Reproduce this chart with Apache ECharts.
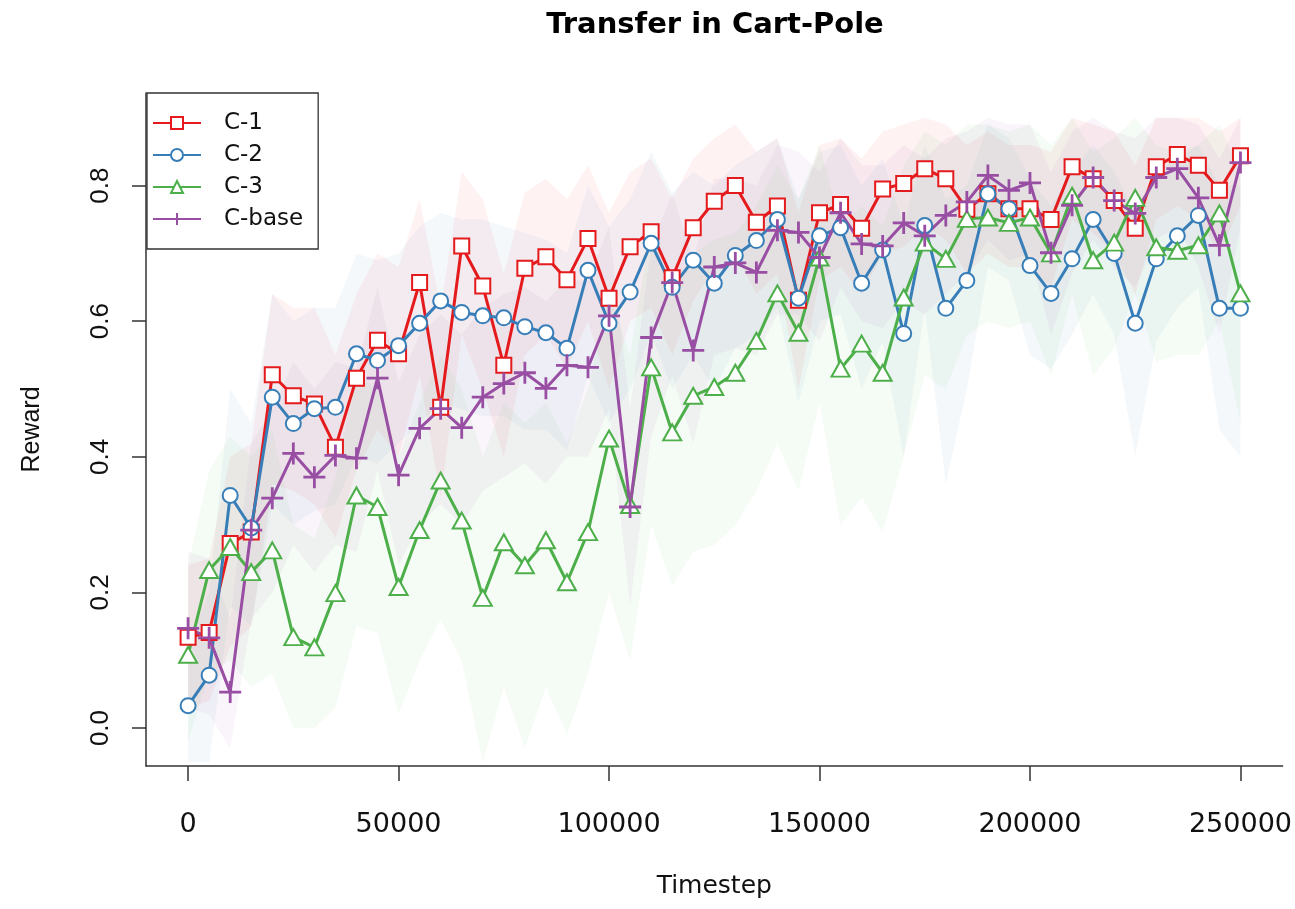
<!doctype html>
<html>
    <head>
        <meta charset="utf-8">
        <title>Transfer in Cart-Pole</title>
        <style>
            html, body { margin: 0; padding: 0; background: #fff; }
            #main { width: 1295px; height: 909px; }
        </style>
    </head>
    <body>
        <div id="main"></div>
        <script src="https://cdn.jsdelivr.net/npm/echarts@6/dist/echarts.min.js"></script>
        <script>
            // timesteps on the x axis
            var timesteps = [
                0, 5000, 10000, 15000, 20000, 25000, 30000, 35000, 40000, 45000,
                50000, 55000, 60000, 65000, 70000, 75000, 80000, 85000, 90000, 95000,
                100000, 105000, 110000, 115000, 120000, 125000, 130000, 135000, 140000, 145000,
                150000, 155000, 160000, 165000, 170000, 175000, 180000, 185000, 190000, 195000,
                200000, 205000, 210000, 215000, 220000, 225000, 230000, 235000, 240000, 245000,
                250000
            ];
            var xTicks = [0, 50000, 100000, 150000, 200000, 250000];
            var yTicks = [0, 0.2, 0.4, 0.6, 0.8];

            // mean reward per run
            var c1 = [0.134, 0.141, 0.272, 0.289, 0.521, 0.490, 0.478, 0.414, 0.516, 0.572,
                0.552, 0.657, 0.473, 0.711, 0.652, 0.535, 0.678, 0.695, 0.661, 0.722,
                0.634, 0.710, 0.732, 0.664, 0.738, 0.777, 0.800, 0.746, 0.770, 0.631,
                0.760, 0.772, 0.737, 0.795, 0.803, 0.825, 0.810, 0.765, 0.788, 0.766,
                0.766, 0.750, 0.828, 0.810, 0.778, 0.737, 0.828, 0.846, 0.830, 0.793,
                0.844];
            var c2 = [0.033, 0.078, 0.343, 0.295, 0.488, 0.449, 0.471, 0.473, 0.552, 0.542,
                0.564, 0.597, 0.630, 0.613, 0.608, 0.605, 0.592, 0.583, 0.560, 0.675,
                0.597, 0.643, 0.715, 0.650, 0.690, 0.656, 0.697, 0.719, 0.750, 0.634,
                0.726, 0.738, 0.656, 0.705, 0.582, 0.741, 0.619, 0.660, 0.788, 0.766,
                0.682, 0.641, 0.692, 0.750, 0.700, 0.597, 0.692, 0.726, 0.756, 0.619,
                0.619];
            var c3 = [0.108, 0.233, 0.267, 0.230, 0.262, 0.134, 0.119, 0.199, 0.343, 0.326,
                0.208, 0.292, 0.365, 0.306, 0.192, 0.274, 0.240, 0.277, 0.215, 0.289,
                0.427, 0.329, 0.532, 0.436, 0.490, 0.503, 0.524, 0.571, 0.641, 0.583,
                0.694, 0.530, 0.567, 0.524, 0.635, 0.716, 0.692, 0.751, 0.753, 0.745,
                0.753, 0.700, 0.785, 0.690, 0.716, 0.782, 0.709, 0.704, 0.712, 0.759,
                0.641];
            var cBase = [0.147, 0.133, 0.053, 0.292, 0.339, 0.405, 0.370, 0.402, 0.398, 0.516,
                0.373, 0.442, 0.471, 0.443, 0.488, 0.508, 0.524, 0.501, 0.535, 0.532,
                0.608, 0.326, 0.576, 0.657, 0.557, 0.680, 0.686, 0.672, 0.734, 0.731,
                0.694, 0.760, 0.714, 0.711, 0.745, 0.726, 0.756, 0.776, 0.815, 0.793,
                0.804, 0.701, 0.771, 0.812, 0.778, 0.759, 0.812, 0.825, 0.782, 0.712,
                0.834];

            // shaded spread (lower / upper edge) per run
            var c1Lo = [0.03, 0.04, 0.12, 0.15, 0.36, 0.35, 0.33, 0.28, 0.38, 0.44,
                0.40, 0.52, 0.34, 0.58, 0.50, 0.40, 0.55, 0.58, 0.53, 0.60,
                0.50, 0.60, 0.62, 0.55, 0.63, 0.68, 0.70, 0.64, 0.67, 0.50,
                0.66, 0.68, 0.64, 0.70, 0.71, 0.74, 0.72, 0.67, 0.70, 0.68,
                0.68, 0.65, 0.75, 0.73, 0.70, 0.64, 0.75, 0.77, 0.75, 0.70,
                0.77];
            var c1Hi = [0.24, 0.25, 0.40, 0.42, 0.64, 0.62, 0.62, 0.55, 0.64, 0.70,
                0.68, 0.78, 0.62, 0.82, 0.78, 0.67, 0.79, 0.81, 0.78, 0.83,
                0.76, 0.82, 0.84, 0.78, 0.84, 0.87, 0.89, 0.85, 0.87, 0.76,
                0.86, 0.87, 0.84, 0.88, 0.89, 0.90, 0.89, 0.86, 0.88, 0.86,
                0.86, 0.85, 0.90, 0.89, 0.88, 0.83, 0.90, 0.90, 0.90, 0.88,
                0.90];
            var c2Lo = [-0.05, -0.05, 0.18, 0.15, 0.33, 0.30, 0.32, 0.33, 0.40, 0.39,
                0.42, 0.45, 0.48, 0.47, 0.46, 0.46, 0.44, 0.44, 0.41, 0.52,
                0.45, 0.50, 0.58, 0.50, 0.55, 0.50, 0.56, 0.58, 0.62, 0.48,
                0.60, 0.61, 0.50, 0.57, 0.40, 0.62, 0.36, 0.50, 0.68, 0.66,
                0.55, 0.53, 0.58, 0.64, 0.58, 0.40, 0.57, 0.62, 0.65, 0.44,
                0.40];
            var c2Hi = [0.12, 0.20, 0.50, 0.45, 0.64, 0.60, 0.62, 0.62, 0.70, 0.69,
                0.70, 0.74, 0.76, 0.75, 0.75, 0.74, 0.73, 0.72, 0.70, 0.80,
                0.74, 0.78, 0.85, 0.79, 0.82, 0.80, 0.83, 0.85, 0.87, 0.78,
                0.85, 0.86, 0.80, 0.84, 0.74, 0.86, 0.78, 0.80, 0.89, 0.87,
                0.81, 0.77, 0.82, 0.86, 0.82, 0.76, 0.82, 0.84, 0.86, 0.80,
                0.80];
            var c3Lo = [-0.02, 0.08, 0.10, 0.06, 0.08, 0.00, 0.00, 0.03, 0.15, 0.14,
                0.02, 0.10, 0.16, 0.10, -0.05, 0.06, -0.03, 0.06, -0.01, 0.08,
                0.20, 0.10, 0.30, 0.21, 0.26, 0.27, 0.30, 0.35, 0.42, 0.35,
                0.48, 0.30, 0.34, 0.29, 0.40, 0.52, 0.50, 0.58, 0.60, 0.59,
                0.60, 0.52, 0.64, 0.52, 0.56, 0.64, 0.54, 0.55, 0.55, 0.60,
                0.45];
            var c3Hi = [0.24, 0.38, 0.43, 0.40, 0.44, 0.30, 0.28, 0.37, 0.52, 0.50,
                0.40, 0.48, 0.55, 0.50, 0.40, 0.48, 0.45, 0.48, 0.42, 0.50,
                0.64, 0.55, 0.74, 0.64, 0.70, 0.72, 0.73, 0.77, 0.83, 0.78,
                0.86, 0.74, 0.77, 0.74, 0.83, 0.88, 0.86, 0.89, 0.89, 0.88,
                0.89, 0.86, 0.90, 0.85, 0.87, 0.90, 0.86, 0.85, 0.86, 0.89,
                0.82];
            var cBaseLo = [0.03, 0.02, -0.03, 0.16, 0.20, 0.27, 0.23, 0.27, 0.26, 0.38,
                0.24, 0.30, 0.33, 0.30, 0.35, 0.37, 0.39, 0.36, 0.40, 0.40,
                0.47, 0.18, 0.43, 0.52, 0.42, 0.55, 0.56, 0.55, 0.61, 0.61,
                0.57, 0.65, 0.60, 0.59, 0.63, 0.61, 0.64, 0.67, 0.72, 0.69,
                0.70, 0.58, 0.67, 0.72, 0.68, 0.65, 0.72, 0.74, 0.68, 0.58,
                0.74];
            var cBaseHi = [0.26, 0.25, 0.16, 0.42, 0.47, 0.54, 0.50, 0.54, 0.53, 0.65,
                0.51, 0.58, 0.61, 0.58, 0.62, 0.64, 0.65, 0.63, 0.66, 0.66,
                0.74, 0.47, 0.71, 0.79, 0.69, 0.81, 0.81, 0.80, 0.86, 0.85,
                0.82, 0.87, 0.83, 0.83, 0.86, 0.84, 0.87, 0.88, 0.90, 0.89,
                0.89, 0.82, 0.88, 0.90, 0.88, 0.87, 0.90, 0.90, 0.89, 0.84,
                0.90];

            // the reference text is wide horizontally, so DejaVu for horizontal text
            var WIDE = '"DejaVu Sans", Verdana, sans-serif';
            var NARROW = '"Liberation Sans", Arial, Helvetica, sans-serif';
            var PLUS = 'path://M-10,0L10,0M0,-10L0,10';

            var runs = [
                { name: 'C-1', color: '#E41A1C', mean: c1, lo: c1Lo, hi: c1Hi, symbol: 'emptyRect', size: 15, band: 'rgba(228,26,28,0.055)' },
                { name: 'C-2', color: '#377EB8', mean: c2, lo: c2Lo, hi: c2Hi, symbol: 'emptyCircle', size: 15, band: 'rgba(55,126,184,0.055)' },
                { name: 'C-3', color: '#4DAF4A', mean: c3, lo: c3Lo, hi: c3Hi, symbol: 'emptyTriangle', size: [18, 16], band: 'rgba(77,175,74,0.055)' },
                { name: 'C-base', color: '#984EA3', mean: cBase, lo: cBaseLo, hi: cBaseHi, symbol: PLUS, size: 22, band: 'rgba(152,78,163,0.055)' }
            ];

            function pairs(ys) {
                return timesteps.map(function (t, i) { return [t, ys[i]]; });
            }

            var series = [];
            // bands first so they sit under the lines; one polygon per run
            runs.forEach(function (r, k) {
                series.push({
                    name: 'band' + k,
                    type: 'custom',
                    silent: true,
                    z: 1,
                    data: timesteps.map(function (t, i) { return [t, r.lo[i], r.hi[i]]; }),
                    encode: { x: 0, y: [1, 2] },
                    renderItem: function (params, api) {
                        if (params.dataIndexInside !== 0) return null;
                        var pts = [];
                        for (var i = 0; i < timesteps.length; i++) {
                            pts.push(api.coord([timesteps[i], r.hi[i]]));
                        }
                        for (var j = timesteps.length - 1; j >= 0; j--) {
                            pts.push(api.coord([timesteps[j], r.lo[j]]));
                        }
                        return {
                            type: 'polygon',
                            shape: { points: pts },
                            style: { fill: r.band, stroke: null }
                        };
                    }
                });
            });
            runs.forEach(function (r) {
                series.push({
                    name: r.name,
                    type: 'line',
                    data: pairs(r.mean),
                    symbol: r.symbol,
                    symbolSize: r.size,
                    showAllSymbol: true,
                    color: r.color,
                    lineStyle: { color: r.color, width: 3 },
                    itemStyle: { color: r.color, borderColor: r.color, borderWidth: 2.8 },
                    z: 3
                });
            });

            var chart = echarts.init(document.getElementById('main'));
            chart.setOption({
                animation: false,
                backgroundColor: '#fff',
                textStyle: { fontFamily: WIDE },
                graphic: [{
                    type: 'text',
                    x: 715,
                    y: 25,
                    style: {
                        text: 'Transfer in Cart-Pole',
                        font: 'bold 29px ' + WIDE,
                        fill: '#000',
                        textAlign: 'center',
                        textVerticalAlign: 'middle'
                    }
                }],
                legend: {
                    data: runs.map(function (r) { return r.name; }),
                    orient: 'vertical',
                    left: 147,
                    top: 93,
                    padding: [18, 15, 18, 5],
                    itemGap: 8,
                    itemWidth: 48,
                    itemHeight: 15,
                    borderColor: '#333',
                    borderWidth: 1.3,
                    borderRadius: 0,
                    textStyle: { fontSize: 23, color: '#111', fontFamily: WIDE, lineHeight: 24, padding: [0, 0, 0, 18] }
                },
                grid: { left: 146, top: 93, width: 1139, height: 673, containLabel: false },
                xAxis: {
                    type: 'value',
                    min: -10000,
                    max: 260000,
                    name: 'Timestep',
                    nameLocation: 'middle',
                    nameGap: 108,
                    nameTextStyle: { fontSize: 25, color: '#111', fontFamily: WIDE },
                    splitLine: { show: false },
                    axisLine: { onZero: false, lineStyle: { color: '#333', width: 1.5 } },
                    axisTick: { customValues: xTicks, length: 15, lineStyle: { color: '#333', width: 1.5 } },
                    axisLabel: {
                        customValues: xTicks,
                        margin: 45,
                        fontSize: 27,
                        color: '#111',
                        fontFamily: WIDE,
                        formatter: function (v) { return String(v); }
                    }
                },
                yAxis: {
                    type: 'value',
                    min: -0.056,
                    max: 0.9366,
                    name: 'Reward',
                    nameLocation: 'middle',
                    nameRotate: 90,
                    nameGap: 101,
                    nameTextStyle: { fontSize: 25, color: '#111', fontFamily: NARROW },
                    splitLine: { show: false },
                    axisLine: { onZero: false, lineStyle: { color: '#333', width: 1.5 } },
                    axisTick: { customValues: yTicks, length: 14, lineStyle: { color: '#333', width: 1.5 } },
                    axisLabel: {
                        customValues: yTicks,
                        rotate: 90,
                        margin: 32,
                        fontSize: 26,
                        color: '#111',
                        fontFamily: NARROW,
                        formatter: function (v) { return v.toFixed(1); }
                    }
                },
                series: series
            });

            window.addEventListener('resize', function () {
                chart.resize();
            });
        </script>
    </body>
</html>
